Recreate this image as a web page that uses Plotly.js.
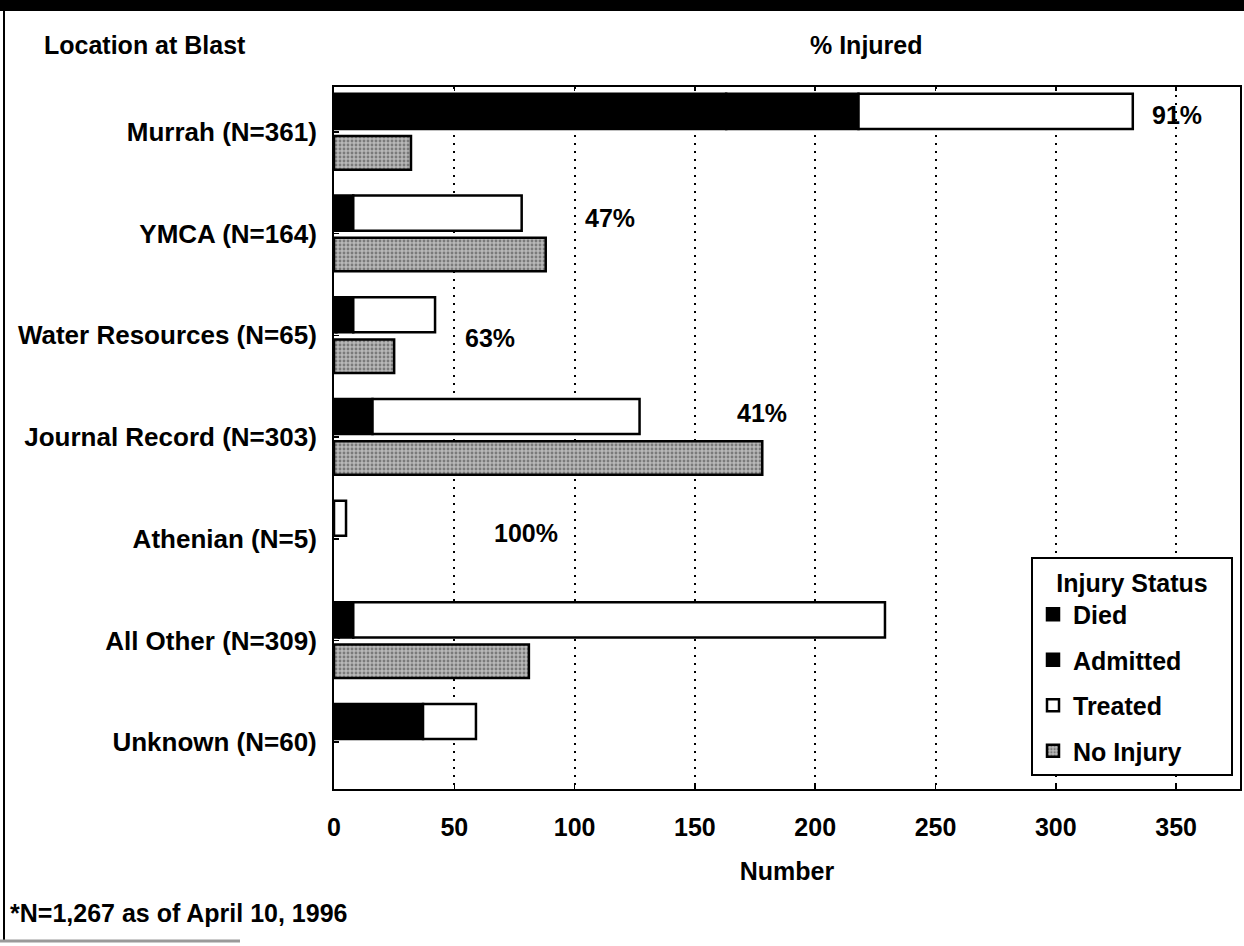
<!DOCTYPE html>
<html>
<head>
<meta charset="utf-8">
<script src="https://cdn.plot.ly/plotly-3.0.1.min.js"></script>
<style>
  html, body { margin: 0; padding: 0; background: #fff; }
  #chart { width: 1244px; height: 946px; }
</style>
</head>
<body>
<div id="chart"></div>
<script>
// ---- data ----
const categories = ['Murrah (N=361)', 'YMCA (N=164)', 'Water Resources (N=65)', 'Journal Record (N=303)', 'Athenian (N=5)', 'All Other (N=309)', 'Unknown (N=60)'];
const died      = [163, 0, 1, 0, 0, 2, 0];
const admitted  = [55, 8, 7, 16, 0, 6, 37];
const treated   = [114, 70, 34, 111, 5, 221, 22];
const noInjury  = [32, 88, 25, 178, 0, 81, 0];
const pctInjured = [91, 47, 63, 41, 100, null, null];
const xTicks = [0, 50, 100, 150, 200, 250, 300, 350];

// ---- layout geometry ----
const W = 1244, H = 946;
const M = { l: 334, r: 4, t: 87, b: 157 };
const plotW = W - M.l - M.r, plotH = H - M.t - M.b;
const px2x = px => (px - M.l) / plotW;
const px2y = py => (H - M.b - py) / plotH;

const FONT = 'Liberation Sans, Arial, Helvetica, sans-serif';
const font = (size) => ({ family: FONT, size: size, color: '#000', weight: 'bold' });

const nz = arr => arr.map(v => (v ? v : null));
const sumArr = (...arrs) => arrs[0].map((_, i) => arrs.reduce((s, a) => s + (a[i] || 0), 0));

const injOffset = -0.375, injWidth = 0.345;
const noOffset = 0.04, noWidth = 0.33;
const outline = { color: '#000', width: 2.5 };

const traces = [
  { name: 'Died', x: nz(died), base: died.map(() => 0), y: categories },
  { name: 'Admitted', x: nz(admitted), base: died, y: categories },
  { name: 'Treated', x: nz(treated), base: sumArr(died, admitted), y: categories }
].map((t, i) => Object.assign(t, {
  type: 'bar', orientation: 'h', offset: injOffset, width: injWidth,
  marker: { color: i < 2 ? '#000' : '#fff', line: outline },
  legendgroup: 'g' + i, hoverinfo: 'x+name'
}));

traces.push({
  type: 'bar', orientation: 'h', name: 'No Injury', x: nz(noInjury), y: categories,
  base: noInjury.map(() => 0), offset: noOffset, width: noWidth,
  marker: { color: '#b4b4b4', line: outline,
            pattern: { shape: '.', fgcolor: '#7a7a7a', bgcolor: '#b8b8b8', size: 4, solidity: 0.4 } },
  legendgroup: 'g3', hoverinfo: 'x+name'
});

// percent-injured labels (layout placement only)
const pctPlace = [
  { x: 350.5, dy: -0.167 },
  { x: 114.9, dy: -0.154 },
  { x: 64.8, dy: 0.026 },
  { x: 177.8, dy: -0.236 },
  { x: 79.8, dy: -0.059 }
];
const annotations = [];
pctInjured.forEach((p, i) => {
  if (p === null) return;
  annotations.push({
    xref: 'x', yref: 'y', x: pctPlace[i].x, y: i + pctPlace[i].dy,
    text: p + '%', showarrow: false, xanchor: 'center', yanchor: 'middle', font: font(25)
  });
});
annotations.push(
  { xref: 'paper', yref: 'paper', x: px2x(42), y: px2y(45), xanchor: 'left', yanchor: 'middle',
    text: 'Location at Blast', showarrow: false, font: font(25) },
  { xref: 'paper', yref: 'paper', x: px2x(866), y: px2y(45), xanchor: 'center', yanchor: 'middle',
    text: '% Injured', showarrow: false, font: font(25) },
  { xref: 'paper', yref: 'paper', x: px2x(8), y: px2y(913), xanchor: 'left', yanchor: 'middle',
    text: '*N=1,267 as of April 10, 1996', showarrow: false, font: font(25) }
);

const shapes = [
  { type: 'rect', xref: 'paper', yref: 'paper', x0: px2x(0), x1: px2x(W), y0: px2y(0), y1: px2y(11),
    fillcolor: '#000', line: { width: 0 }, layer: 'above' },
  { type: 'line', xref: 'paper', yref: 'paper', x0: px2x(4), x1: px2x(4), y0: px2y(0), y1: px2y(940),
    line: { color: '#000', width: 2 } },
  { type: 'line', xref: 'paper', yref: 'paper', x0: px2x(0), x1: px2x(240), y0: px2y(941), y1: px2y(941),
    line: { color: '#9a9a9a', width: 3 } }
];

const pad = '\u00a0\u00a0\u00a0';
const layout = {
  width: W, height: H,
  margin: M,
  paper_bgcolor: '#fff', plot_bgcolor: '#fff',
  font: font(25),
  barmode: 'overlay',
  showlegend: true,
  legend: {
    x: px2x(1233), xanchor: 'right', y: px2y(557), yanchor: 'top',
    bgcolor: '#fff', bordercolor: '#000', borderwidth: 2,
    font: font(25), traceorder: 'grouped', tracegroupgap: 10,
    itemwidth: 30,
    title: { text: pad + 'Injury Status' + pad, side: 'top center', font: font(25) },
    itemclick: false, itemdoubleclick: false
  },
  xaxis: {
    range: [0, plotW / 2.406],
    tickmode: 'array', tickvals: xTicks, ticktext: xTicks.map(String),
    showgrid: true, gridcolor: '#000', gridwidth: 2, griddash: '2px,6px',
    zeroline: false, showline: true, linecolor: '#000', linewidth: 2, mirror: 'ticks',
    ticks: 'inside', ticklen: 4, tickwidth: 1.5, tickcolor: '#000',
    ticklabelstandoff: 15,
    tickfont: font(25),
    title: { text: 'Number', font: font(25), standoff: 22 },
    fixedrange: true
  },
  yaxis: {
    type: 'category', categoryorder: 'array', categoryarray: categories,
    range: [6.4605, -0.4425],
    showgrid: false, zeroline: false,
    showline: true, linecolor: '#000', linewidth: 2, mirror: true,
    ticks: 'inside', ticklen: 5, tickwidth: 1.5, tickcolor: '#000',
    ticklabelstandoff: 10,
    tickfont: font(26),
    fixedrange: true
  },
  annotations: annotations,
  shapes: shapes
};

Plotly.newPlot('chart', traces, layout, { displayModeBar: false, staticPlot: true });
</script>
</body>
</html>
